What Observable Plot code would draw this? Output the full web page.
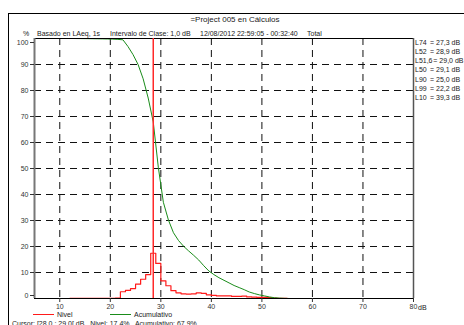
<!DOCTYPE html>
<html>
<head>
<meta charset="utf-8">
<script src="https://cdn.jsdelivr.net/npm/d3@7"></script>
<script src="https://cdn.jsdelivr.net/npm/@observablehq/plot@0.6"></script>
<style>
  html, body { margin: 0; padding: 0; background: #fff; }
  #wrap { position: relative; width: 464px; height: 325px; overflow: hidden; font-family: "Liberation Sans", Arial, sans-serif; font-size: 7px; color: #222; }
  #frame { position: absolute; left: 8px; top: 13px; width: 500px; height: 400px; border: 1px solid #000; box-sizing: border-box; }
  .t { position: absolute; white-space: pre; line-height: 1; }
  #chart { position: absolute; left: 0; top: 0; }
  .sw { position: absolute; height: 0; border-top: 1.3px solid; }
</style>
</head>
<body>
<div id="wrap">
  <div id="frame"></div>
  <div id="chart"></div>
  <div id="texts"></div>
</div>
<script>
// ---- data ----
const title = "=Project 005 en Cálculos";
const subtitleParts = ["%", "Basado en LAeq, 1s", "Intervalo de Clase: 1,0 dB", "12/08/2012 22:59:05 - 00:32:40", "Total"];
const xDomain = [5, 80];
const yDomain = [0, 100];
const xTicks = [10, 20, 30, 40, 50, 60, 70, 80];
const xGrid = [10, 20, 30, 40, 50, 60, 70];
const yTicks = [10, 20, 30, 40, 50, 60, 70, 80, 90];
const yGrid = [10, 20, 30, 40, 50, 60, 70, 80, 90];
const binStart = [12,13,14,15,16,17,18,19,20,21,22,23,24,25,26,27,28,29,30,31,32,33,34,35,36,37,38,39,40,41,42,43,44,45,46,47,48,49,50,51,52,53,54];
const nivel = [0.02,0.02,0.02,0.03,0.03,0.03,0.04,0.05,0.1,0.16,2.6,3.1,3.8,5.5,7.4,9.2,17.4,13.5,6.8,4.9,3.0,2.2,1.8,1.7,1.8,2.2,2.0,1.4,1.2,1.0,1.0,1.0,0.8,0.8,0.9,0.6,0.5,0.4,0.4,0.3,0.15,0.1,0.05];
const binEnd = 55;
const acumDb = [12.5,13.5,14.5,15.5,16.5,17.5,18.5,19.5,20.5,21.5,22.5,23.5,24.5,25.5,26.5,27.5,28.5,29.5,30.5,31.5,32.5,33.5,34.5,35.5,36.5,37.5,38.5,39.5,40.5,41.5,42.5,43.5,44.5,45.5,46.5,47.5,48.5,49.5,50.5,51.5,52.5,53.5,54.5,55.5];
const acumulativo = [100,99.98,99.96,99.94,99.91,99.88,99.85,99.81,99.76,99.66,99.5,96.9,93.8,90.0,84.5,77.1,67.9,50.5,37.0,30.2,25.3,22.3,20.1,18.3,16.6,14.8,12.6,10.6,9.2,8.0,7.0,6.0,5.0,4.2,3.4,2.5,1.9,1.4,1.0,0.6,0.3,0.15,0.05,0];
const cursorDb = 28.5;
const statLabels = ["L74", "L52", "L51,6", "L50", "L90", "L99", "L10"];
const statValues = ["27,3", "28,9", "29,0", "29,1", "25,0", "22,2", "39,3"];
const legendNames = ["Nivel", "Acumulativo"];
const legendColors = ["#ff1a1a", "#1a8c1a"];
const caption = "Cursor: [28,0 ; 29,0[ dB   Nivel: 17,4%   Acumulativo: 67,9%";

// ---- tables ----
const histo = binStart.map((d, i) => ({db: d, v: nivel[i]})).concat([{db: binEnd, v: 0}]);
const acum = acumDb.map((d, i) => ({db: d, v: acumulativo[i]}));

const axisStyle = {tickSize: 4, tickPadding: 2, label: null, stroke: "#333", fill: "#333"};

const chart = Plot.plot({
  width: 464, height: 325,
  marginLeft: 34, marginRight: 51, marginTop: 38, marginBottom: 27,
  x: {domain: xDomain},
  y: {domain: yDomain},
  style: {fontFamily: "Liberation Sans, Arial, sans-serif", fontSize: "7px", background: "transparent", overflow: "visible"},
  marks: [
    Plot.gridX(xGrid, {stroke: "#111", strokeOpacity: 1, strokeDasharray: "7,5", strokeWidth: 1}),
    Plot.gridY(yGrid, {stroke: "#111", strokeOpacity: 1, strokeDasharray: "7,5", strokeWidth: 1}),
    Plot.line(histo, {x: "db", y: "v", curve: "step-after", stroke: legendColors[0], strokeWidth: 1.2}),
    Plot.line(acum, {x: "db", y: "v", stroke: legendColors[1], strokeWidth: 1}),
    Plot.ruleY([yDomain[0]], {stroke: "#000", strokeWidth: 1.2}),
    Plot.ruleY([yDomain[1]], {stroke: "#000", strokeWidth: 1.2}),
    Plot.ruleX([cursorDb], {stroke: "#ff2a2a", strokeWidth: 1.5}),
    Plot.ruleX([xDomain[0]], {stroke: "#777", strokeWidth: 2}),
    Plot.ruleX([xDomain[1]], {stroke: "#555", strokeWidth: 1.5}),
    Plot.axisX(xTicks, {...axisStyle, tickPadding: 1.5}),
    Plot.axisY(yTicks, axisStyle),
    Plot.axisY([yDomain[0]], {...axisStyle, dy: -3}),
    Plot.axisY([yDomain[1]], {...axisStyle, dy: 4})
  ]
});
document.getElementById("chart").appendChild(chart);

// ---- text overlays ----
const texts = document.getElementById("texts");
function addText(str, left, top, extra) {
  const el = document.createElement("div");
  el.className = "t";
  el.textContent = str;
  el.style.left = left + "px";
  el.style.top = top + "px";
  if (extra) Object.assign(el.style, extra);
  texts.appendChild(el);
  return el;
}
addText(title, 0, 16, {width: "470px", textAlign: "center", fontSize: "8px"});
const subLeft = [23, 37, 110, 200, 307];
subtitleParts.forEach((s, i) => addText(s, subLeft[i], 29.5));
statLabels.forEach((s, i) => {
  const lab = addText(s, 415, 38.5 + i * 9.3);
  const w = lab.getBoundingClientRect().width;
  addText("= " + statValues[i] + " dB", Math.max(430, 415 + w + 0.8), 38.5 + i * 9.3);
});
addText("dB", 418, 303.5);
// legend
legendNames.forEach((n, i) => {
  const x0 = [33, 110][i];
  const sw = document.createElement("div");
  sw.className = "sw";
  sw.style.left = x0 + "px";
  sw.style.top = "314px";
  sw.style.width = "21px";
  sw.style.borderTopColor = legendColors[i];
  texts.appendChild(sw);
  addText(n, x0 + 24, 311);
});
addText(caption, 12, 320);
</script>
</body>
</html>
